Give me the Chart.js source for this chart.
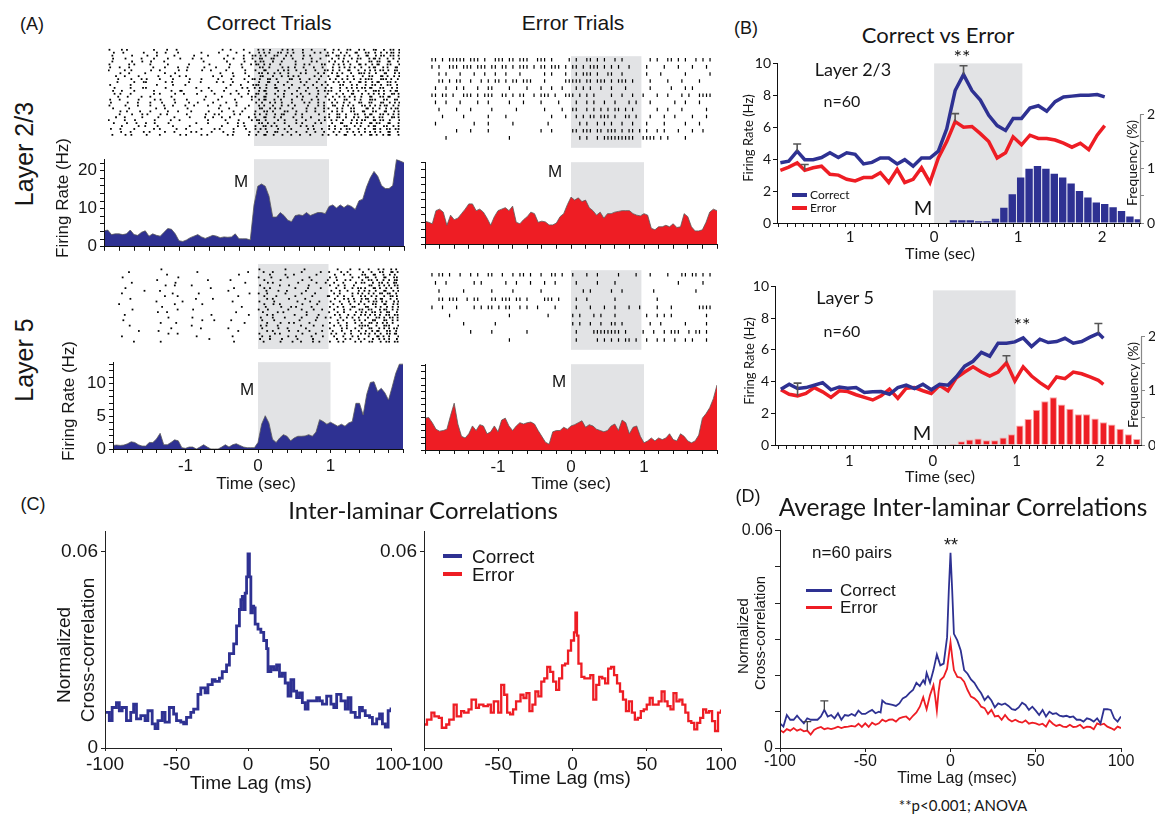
<!DOCTYPE html>
<html><head><meta charset="utf-8"><title>Correct vs Error trials</title>
<script src="https://cdn.jsdelivr.net/npm/chart.js@4.4.1/dist/chart.umd.min.js"></script>
<style>
html,body{margin:0;padding:0;background:#fff}
body{position:relative;width:1155px;height:817px;overflow:hidden;font-family:"Liberation Sans",Arial,sans-serif;color:#161616}
canvas{position:absolute}
.t{position:absolute;white-space:nowrap;line-height:1;transform:translate(-50%,-50%)}
.r{transform:translate(-50%,-50%) rotate(-90deg)}
.lt{transform:translate(0,-50%)}
.cal{font-family:Lato,"Open Sans",sans-serif}
.sw{position:absolute}
</style></head><body>
<canvas id="rA1" width="300" height="106" style="left:104px;top:44px"></canvas>
<canvas id="pA1" width="354" height="114" style="left:56px;top:146px"></canvas>
<canvas id="rA2" width="292" height="102" style="left:425px;top:51px"></canvas>
<canvas id="pA2" width="310" height="109" style="left:413px;top:149px"></canvas>
<canvas id="rA3" width="290" height="93" style="left:113px;top:260px"></canvas>
<canvas id="pA3" width="344" height="131" style="left:65px;top:349px"></canvas>
<canvas id="rA4" width="292" height="90" style="left:425px;top:265px"></canvas>
<canvas id="pA4" width="310" height="129" style="left:413px;top:351px"></canvas>
<canvas id="bTop" width="418" height="213" style="left:737px;top:52px"></canvas>
<canvas id="bBot" width="418" height="195" style="left:737px;top:275px"></canvas>
<canvas id="cL" width="363" height="258" style="left:47px;top:517px"></canvas>
<canvas id="cR" width="360" height="258" style="left:380px;top:517px"></canvas>
<canvas id="dP" width="402" height="253" style="left:738px;top:519px"></canvas>

<!-- Panel A text -->
<div class="t" style="left:32px;top:24px;font-size:18px">(A)</div>
<div class="t" style="left:269px;top:22px;font-size:21px">Correct Trials</div>
<div class="t" style="left:573px;top:22px;font-size:21px">Error Trials</div>
<div class="t r" style="left:24px;top:154px;font-size:25px">Layer 2/3</div>
<div class="t r" style="left:24px;top:360px;font-size:25px">Layer 5</div>
<div class="t r" style="left:62px;top:198px;font-size:17px">Firing Rate (Hz)</div>
<div class="t r" style="left:68px;top:401px;font-size:17px">Firing Rate (Hz)</div>
<div class="t" style="left:241px;top:181px;font-size:17px">M</div>
<div class="t" style="left:555px;top:171px;font-size:17px">M</div>
<div class="t" style="left:247px;top:389px;font-size:17px">M</div>
<div class="t" style="left:559px;top:381px;font-size:17px">M</div>
<div class="t" style="left:256px;top:483px;font-size:17px">Time (sec)</div>
<div class="t" style="left:571px;top:483px;font-size:17px">Time (sec)</div>

<!-- Panel B text -->
<div class="t" style="left:746px;top:28px;font-size:18px">(B)</div>
<div class="t cal" style="left:938px;top:35px;font-size:22px">Correct vs Error</div>
<div class="t cal" style="left:853px;top:69px;font-size:18px">Layer 2/3</div>
<div class="t cal" style="left:842px;top:101px;font-size:16px">n=60</div>
<div class="t cal" style="left:962px;top:56px;font-size:20px">**</div>
<div class="t cal" style="left:923px;top:207px;font-size:20px">M</div>
<div class="sw" style="left:792px;top:193px;width:15px;height:4px;background:#2E3192"></div>
<div class="t cal lt" style="left:810px;top:195px;font-size:12px">Correct</div>
<div class="sw" style="left:792px;top:206px;width:15px;height:4px;background:#EE1D24"></div>
<div class="t cal lt" style="left:810px;top:208px;font-size:12px">Error</div>
<div class="t cal r" style="left:748px;top:138px;font-size:13px">Firing Rate (Hz)</div>
<div class="t cal r" style="left:1132px;top:163px;font-size:14px">Frequency (%)</div>
<div class="t cal" style="left:940px;top:253px;font-size:16px">Time (sec)</div>
<div class="t cal" style="left:845px;top:297px;font-size:18px">Layer 5</div>
<div class="t cal" style="left:842px;top:331px;font-size:16px">n=60</div>
<div class="t cal" style="left:1022px;top:324px;font-size:20px">**</div>
<div class="t cal" style="left:922px;top:432px;font-size:20px">M</div>
<div class="t cal r" style="left:749px;top:361px;font-size:13px">Firing Rate (Hz)</div>
<div class="t cal r" style="left:1133px;top:385px;font-size:14px">Frequency (%)</div>
<div class="t cal" style="left:940px;top:476px;font-size:16px">Time (sec)</div>

<!-- Panel C text -->
<div class="t" style="left:33px;top:504px;font-size:18px">(C)</div>
<div class="t cal" style="left:423px;top:510px;font-size:24px">Inter-laminar Correlations</div>
<div class="t r" style="left:63px;top:655px;font-size:19px">Normalized</div>
<div class="t r" style="left:87px;top:650px;font-size:19px">Cross-correlation</div>
<div class="t" style="left:251px;top:782px;font-size:19px">Time Lag (ms)</div>
<div class="t" style="left:570px;top:777px;font-size:19px">Time Lag (ms)</div>
<div class="sw" style="left:443px;top:554px;width:19px;height:4px;background:#2E3192"></div>
<div class="t lt" style="left:472px;top:556px;font-size:19px">Correct</div>
<div class="sw" style="left:443px;top:572px;width:19px;height:4px;background:#EE1D24"></div>
<div class="t lt" style="left:472px;top:574px;font-size:19px">Error</div>

<!-- Panel D text -->
<div class="t" style="left:748px;top:496px;font-size:18px">(D)</div>
<div class="t cal" style="left:963px;top:507px;font-size:24.5px">Average Inter-laminar Correlations</div>
<div class="t" style="left:852px;top:552px;font-size:17px">n=60 pairs</div>
<div class="t" style="left:951px;top:545px;font-size:18px">**</div>
<div class="sw" style="left:806px;top:589px;width:26px;height:2.5px;background:#2E3192"></div>
<div class="t lt" style="left:840px;top:590px;font-size:17px">Correct</div>
<div class="sw" style="left:806px;top:606px;width:26px;height:2.5px;background:#EE1D24"></div>
<div class="t lt" style="left:840px;top:607px;font-size:17px">Error</div>
<div class="t r" style="left:742px;top:636px;font-size:15px">Normalized</div>
<div class="t r" style="left:759px;top:633px;font-size:15px">Cross-correlation</div>
<div class="t" style="left:957px;top:778px;font-size:16px">Time Lag (msec)</div>
<div class="t cal" style="left:963px;top:805px;font-size:15px">**p&lt;0.001; ANOVA</div>

<script>
// ================= DATA =================
// Panel A: PSTH time grid (s) and firing rates (Hz)
const psthTime = [-2,-1.95,-1.9,-1.85,-1.8,-1.75,-1.7,-1.65,-1.6,-1.55,-1.5,-1.45,-1.4,-1.35,-1.3,-1.25,-1.2,-1.15,-1.1,-1.05,
  -1,-0.95,-0.9,-0.85,-0.8,-0.75,-0.7,-0.65,-0.6,-0.55,-0.5,-0.45,-0.4,-0.35,-0.3,-0.25,-0.2,-0.15,-0.1,-0.05,
  0,0.05,0.1,0.15,0.2,0.25,0.3,0.35,0.4,0.45,0.5,0.55,0.6,0.65,0.7,0.75,0.8,0.85,0.9,0.95,
  1,1.05,1.1,1.15,1.2,1.25,1.3,1.35,1.4,1.45,1.5,1.55,1.6,1.65,1.7,1.75,1.8,1.85,1.9,1.95,2];
const psthCorrectL23 = [4.2,4.4,3.2,3.4,3.4,3.2,3.4,4.4,3.2,3.0, 3.8,4.2,2.8,3.4,3.0,2.8,3.8,4.8,4.6,3.4,
  1.6,1.4,1.8,2.4,2.8,3.2,2.6,2.2,2.6,3.0, 2.8,2.4,2.6,2.5,2.6,3.4,2.1,2.1,2.1,1.8,
  11.0, 15.9,16.5,15.9,13.3,7.8,7.8,9.0,8.2,7.0, 6.6,8.2,8.4,8.2,9.0,8.2,8.6,9.0,9.0,8.7,
  10.6,11.0,10.2,11.0,10.3,11.0,10.6,9.8,12.1,12.5, 15.7,18.1,19.8,18.5,16.1,15.3,15.3,16.1,22.9,22.5, 22.1];
const psthErrorL23 = [6.3,6.0,5.6,9.1,9.5,8.7,5.2,7.9,6.7,7.1, 8.3,9.5,10.9,10.9,9.1,9.5,8.7,7.1,5.2,7.5,
  9.1,9.5,9.9,9.1,10.3,6.0,5.6,6.7,7.5,8.7, 8.3,6.0,6.3,6.1,5.3,5.3,5.8,7.5,8.3,10.7,
  12.7, 11.9,12.5,11.5,11.9,9.9,9.1,7.9,8.7,7.1, 8.3,8.3,8.7,8.9,9.1,9.1,9.1,8.3,7.9,7.7,
  8.3,7.9,4.4,4.0,4.8,4.8,5.2,4.8,5.6,4.6, 4.8,8.3,7.5,4.8,3.7,3.7,4.0,6.0,8.7,9.5, 9.1];
const psthCorrectL5 = [0.55,0.6,0.55,0.6,0.8,1.1,1.0,0.65,0.45,0.45, 1.0,1.0,1.55,2.4,0.65,0.65,1.0,1.4,1.25,0.2,
  0.1,0.3,0.3,0,0.3,0.65,0.3,0,0,0, 0.3,0.65,0.3,0.65,0.8,0.55,0.3,0.2,0.2,0.2,
  1.0, 3.8,5.1,4.0,1.5,1.0,1.7,2.2,1.95,1.25, 1.7,1.95,1.95,2.0,2.2,1.95,2.6,4.5,4.2,3.8,
  4.1,3.8,3.5,3.8,3.5,4.0,4.2,7.0,7.0,5.2, 8.4,10.2,10.3,8.8,9.3,8.6,7.5,9.5,11.6,13.0, 13.0];
const psthErrorL5 = [4.9,5.0,4.2,3.2,2.9,3.0,3.2,5.3,7.2,4.0, 2.1,1.85,2.5,3.7,3.0,3.9,3.7,2.5,2.8,3.7,
  2.8,4.6,4.9,3.7,3.0,3.7,4.2,4.0,4.2,4.3, 4.0,3.0,2.1,1.2,0.9,2.8,3.0,3.0,3.5,3.2,
  3.7, 3.9,4.2,4.5,3.5,3.9,3.7,3.2,3.0,2.8, 3.0,3.7,4.0,3.0,4.6,4.2,2.5,3.5,3.7,2.1,
  1.1,1.4,1.85,1.4,1.85,1.6,1.85,2.5,1.6,1.4, 2.5,2.1,1.4,1.1,1.4,2.3,4.9,5.6,6.5,7.9, 10.0];

// Panel A rasters: one string per trial; segments start at these times (s), bins of 0.05 s.
// '.' = no spike, '|' = spike at bin centre, '1'-'4' = spike at 1/5..4/5 of the bin.
const rasterSegStart = [-2, 0, 1];
const rasterBin = 0.05;
const rasterCorrectL23 = [
"2..4.1.... ..3...1.4. .......... .2.3...1.. / .13.2..4.1 3..2.4...2 / .4.1.32.4. 1.42.3.214",
".3..1....4 ...2.4...1 .....3.... 2....1..4. / .24.1.32.1 4..2..3.1. / 13.4.2.41. 32.14.2314",
".1....3... 4..2....1. ...3...2.. ..4....1.3 / 24.1.32.4. 1..3.2...4 / 2.314.1.3. 41.243.213",
".2..4....1 ..3...2..4 ...1.3.... .4..2..1.3 / .31.42..1. 3..2.4..1. / .2.13.4.21 .3412.3.14",
".1....3..2 .4...2.... ......1... ..3....2.. / 243..1.3.. .2...4.1.. / 3.1.24..1. .3142.41.2",
"2....4.1.. .3....2... ..1....4.. ...2..3..1 / 314.2..1.. .2.4.1..32 / .4.13.2.41 3.241.32.4",
"3..1.4.... ..2..3...1 .4....2..3 ...1..4... / .32.1..4.2 .1.3..2.4. / .3.24.13.2 .341.23.41",
"1...3.2... .4..1....2 .3...4..1. ..2....3.. / 2.41..3.12 .3..1.4..2 / 13.2.41.3. 24.1324.31",
"...2.4.... 1....3..2. .......... 4...1..3.. / .214.3.1.2 ..4.1..3.1 / .24.1.3.42 13.2.41.34",
"..1.3...2. ...4...1.3 .2......4. .1..2...3. / .42..1.3.2 4.1...3.2. / 2.41.3.1.4 .32.413.24",
"..4...2..1 3...1..4.. ..2..3.... 1..4...2.3 / 13.42.1..4 2.3..1.4.. / 4.2.13.2.1 321.4213.2",
"..3....1.4 2....4.3.. ..1..2...4 .3..1...2. / .2.41.3..1 ..4.2..1.3 / .4.13.2.41 3.241.324.",
"3.....1... ...2...4.. .1........ ...3..2..4 / 31.2.4..1. 2..4..1.3. / 1..32.4.1. 3.214.32.1",
".4....1..3 2....4.... ....1..3.. ..2...4.1. / 13.2.41..3 ..2.4..1.3 / .1.3.24.13 241.32.4.1",
".2.4...1.. ..3....2.4 1....3..2. .4...1..3. / .241..3.2. .4..1..3.2 / 21.3.4.13. 3.4213.241",
".4.2..1... ..3.1...2. 4...2....1 ...3.4..2. / 31.2.4..1. 2.4..1.3.. / 1.3.2.41.3 .24.13.423",
"..4..2...1 .3.....2.. ......4... .1....3..2 / 2.41..3.1. .4.2...1.3 / .3.24.13.2 .41.3241.3",
"3..1....2. ..4.2...1. .3....2... 1...4....2 / .241.3.2.. 2..1.4.3.. / 3.1.42.3.1 .421.32.31",
"4....2..1. .3..4...2. ..1.3...4. ..2..1.... / 3.1.24.3.. 2..4.1.3.1 / .24.3.1.42 .31.42.134",
"2...4...1. .3...2.4.. .1.3...2.. 4....1..3. / .24..1.3.2 .1..4..3.1 / .31.24.1.3 24.1342.13",
".2...4.... ...1.3.... .4........ 2..1...3.. / .31.24.1.. 3...2.4..1 / 2.4.1.32.. 413.2.1342",
"...2.1..4. .3....2..1 ..4....3.. .1..2.4... / 2.43.1..21 .3..2.4..1 / .24.1.32.4 1.32.41.23",
"...1..3..2 4...2.1... .3....4..1 2...3.1... / 13.2.4.31. .2.1...4.. / 3.42.1.32. 241.324.13",
"..1.3....2 ...4....1. ..2...3.4. .1.2....3. / 2.41.3.2.. 4..1.3...2 / 3.42.1.23. 314.21.423",
"1...3..2.. ..4....1.3 .......2.. ..1..4...2 / 42.1..3.2. .3..1..4.2 / .13.2.4.13 2.4132.1.4",
".3...1.4.. 2.4...3... ....1..2.. ..4..3.1.. / .214.3..2. .3.1..4.2. / .2.41.3.12 .4132.41.3",
"...4....2. 1..3...4.. ..2....... .1...3.2.. / 2.314.1..3 ..4.2.1... / 3.1.42.3.1 .241.32.13",
"4..2...1.. ..3.1...4. .2...3...1 3...2..4.. / 24.1..3.2. 1...4.2.3. / 3.14.21.3. 2.413.2143",
"...3..1..4 .2...3..1. ..4.1...2. .3..2...4. / .1.3.42..1 .3..2.4..1 / .4.2.3.14. 24.13.41.2",
".1..4.2... 3...1....4 .2...3.1.. ..4.1...3. / 3.41.2.4.. 1.3..2..4. / 2.3.41.3.2 .413.241.3"];
const rasterErrorL23 = [
"||.|.||||| .|||.|..|| |.||.|||.. |||.|....| / .|..||.|.| ..|.|..... / ..|.|..||. |.|..|.|.|",
"|.|..|||.| ||.|||.||. ||.|.|||.| .||.|||.|. / ||.|.|||.| .|.|..|... / .|....|... |...|...|.",
"..|.|...|. ..|..|..|. .|...|.... ..|.|...|. / .|.|||.|.. ||..|..... / .|...|.... ..|......|",
"..||.|.||. .|..|.|.|| .|.||.|||. ..|.....|| / |||.||.||| .|.|||.|.. / ..|....|.. .|....|...",
".|..|..|.| ...|..||.. ..|....|.. .|..|..|.. / .|.|.|..|. .|...|.... / ..|.....|. ..|.|.....",
"||.||.|..| ||.|.|||.. ||.|.||..| .|||.|..|| / |.|.|.|... .|..|..|.. / |...|..|.. .|.|..||||",
".|..|...|. ...|..|... ..|...|... .|....|... / .|..|.|..| ..|...|.|. / ..|......| ..|...|...",
"..|....|.. .|.....|.. ....|..... ..|....|.. / ||..|.|.|. |.||.|.|.. / ....|..|.. .|......|.",
"...|.....| ......|... .|........ ....|...|. / .|.|.||.|| |.|..||.|. / ..|...|..| ....|...|.",
".|........ ..|...|... ...|...... ...|...... / ..|.|..|.| .|..|..|.. / .|....|... ..|...|...",
".......|.. .|....|... .......... .|..|..... / ||.|||.||. |||.|.||.| / .|..|.|... |...|..|..",
"....|..... .......... ..|....... .......... / ..|.|..|.| ||||||||.. / ||||.|.|.. ..|......."];
const rasterCorrectL5 = [
".......... ..3....... .......... .......... / 2......4.. ...1...... / ..3...1.4. .2..13.4.1",
"...2...... .......... ..4....... .......1.. / .3..1..... ..2....4.. / 1..3.2...4 ..1.32.413",
".......... ....1..... .......... ....3..... / ...2...4.. 1.....3... / .4..2.1..3 2.41.3.24.",
".3........ .......2.. .......... .......... / 1..4....2. ....3..... / 2.1...4.3. 31.2.41.32",
".......... .2........ .....4.... ..1....... / .4....2... ..3..1...4 / ..2.4.1..3 .214.3.142",
"....1..... ......3... .......... ......2... / ..4.1..... .2....3..1 / .3..1..4.2 1.3.214.31",
".......... ...4..2... .1........ .......... / 3.....1.4. ....2..... / 2.4.3..1.. .31.24.143",
"..2....... .......... ......3... ...1...... / .4.2...... 3...1..4.. / ..1.3.4.21 2.413.24.3",
".......4.. ..1....... .......... .3........ / ..2..4..1. ...3...... / 4..1.2..3. 13.2.41.24",
".2........ .....4.... ...1...... .......3.. / 1.3....4.. ..2...1... / .3.1..4.23 .24.3142.1",
".......... ...3...1.. .......... ....2..... / .4...1.... 3....2...4 / 1.3.2.4..1 2.13.4.312",
"...4...... .......... ..2....1.. .......... / ..3.1...4. ...2...... / .4..23.1.2 31.241.3.2",
".......... .1......3. .......... ..4....... / 2...3..... .1..4..2.. / 3..1.4.2.1 .243.12.34",
"3......... ......2... ....1..... .......... / .4..2.1... ..3...4... / .2.4..1.3. 1.32.41.23",
".......... ..4....... .......... .....2.... / ..1...3..2 4....1.... / 2.3.1.42.. 31.24.3.14",
"....2..... .......1.. .3........ .......... / 1.4.....3. ..2..4..1. / .3..2.1.43 .21.342.13",
".......... .3..1..... .......... ...4...... / .2...3.1.. ...4...... / 1.3.2..4.2 3.214.31.2",
"..1....... .......... ......4... .......2.. / ..3.1..... 2..4...1.. / .4.1.3.2.1 24.13.2143",
".......... ....3..... .2........ .......... / 4...1..3.. ..2...4..1 / 3..2.14.3. .1.324.213",
".4........ .......... ....1..3.. ..2....... / .1..3..... .4....2... / ..3.1..24. 2.31.42.13",
".......... ..2...4... .......... ......1... / ..3...2.4. 1...3..... / 2.4..1.3.2 .314.23.1.",
"...3...... .......... .1........ .......... / 4.2..3.... ..1..4..2. / .3.2.1..43 21.3.421.4",
".......... .....2.... ...4...... .3........ / .1...4..2. ...3...... / 2..4.1.3.2 .31.24.132",
"......1... .4........ .......... ....2..... / ..3.1...4. .2..3...1. / .1.4..2.3. 3.241.32.1",
".......... ....3..1.. .......... .......... / 2...4.1... ..3...2... / 4.1.3.2..1 23.14.3241",
".2........ .......... ..3....... ..4....... / .1.2....3. 4....1..2. / .3..1.4.2. .2.413.1.4",
".......... .......... ......1... .......... / 3..2..4... .1...3.... / ..2.4.1.3. 1.3.24.1.2",
"....4..... ..2....... .......... ...1...... / .3....2..4 ..1..3.2.. / 2.4.1..3.1 .32.4.2143"];
const rasterErrorL5 = [
"|.||.|..|. .|.|..||.. |..|.||.|. .|..||.|.. / |...|..|.. ...|....|. / ..|....|.. .||.||.|.|",
".|..|..... ..|.|..... .|..|...|. ..|..|.... / .|.....|.. ..|....... / .......... |......|..",
"..|......| .......|.. ...|...... .|........ / ...|.|.... .|..|..... / ...|...... .....|....",
"..||.|||.. |.||...||. |||.||.|.. ..|||.|... / .|..|..... ..|....... / ....|..... ..........",
"|..|...|.. ..|.|.||.| .||..|.|.. |....|.... / .|...|...| ..|...|..| / ....|...|. ......||||",
".....|.... .......... ..|....... ...|...... / |.|...|.|. ..|....... / .|..|.|.|. ........|.",
".........| ........|. .......... .......... / |.|..|..|. .||.|..... / ..|..|.... ..|.....|.",
".......... .|.....|.. .......|.. .......... / .|....|||| ||||.|.... / |..|..|.|| |..|.||.|.",
".......... .......... ..|....... .......... / .|.....|.| .|.|.||.|. / .|..|.|..| ..|.|...|."];

// Panel B: population firing rate (Hz) and response-time histograms (%)
const bTopTime = [-1.83,-1.73,-1.63,-1.54,-1.44,-1.34,-1.24,-1.14,-1.04,-0.94,-0.84,-0.74,-0.64,-0.54,-0.44,-0.35,-0.25,-0.15,-0.05,
  0.05,0.15,0.25,0.35,0.45,0.55,0.65,0.75,0.85,0.94,1.04,1.14,1.24,1.34,1.44,1.54,1.64,1.74,1.84,1.94,2.03];
const bTopCorrect = [3.77,3.87,4.5,3.97,3.97,4.1,4.4,4.1,4.4,4.3, 3.7,3.8,4.07,4.07,3.7,3.97,3.56,4.07,4.07,
  4.5,5.9,8.3,9.3,8.3,7.7,6.75,6.1,5.8,6.55, 6.55,7.2,7.35,7.0,7.6,7.9,7.95,8.0,8.0,8.05, 7.9];
const bTopError = [3.3,3.5,3.77,3.3,3.46,3.56,3.05,3.0,2.74,2.64, 2.85,2.85,3.15,2.54,3.36,2.54,2.74,3.46,2.54,
  4.07,5.1,6.35,6.0,6.05,5.6,5.1,4.07,4.4,5.4, 4.9,5.5,5.3,5.3,5.2,5.0,4.75,5.0,4.6,5.5, 6.1];
const bTopBarTime = [0.23,0.33,0.43,0.53,0.63,0.73,0.83,0.93,1.03,1.13,1.23,1.33,1.43,1.53,1.63,1.73,1.83,1.93,2.03,2.13,2.23,2.33,2.43];
const bTopBarFreq = [0.5,0.5,0.5,0.3,0.3,0.8,2.8,5.3,8.4,10,10.5,10,9.1,8.4,7.3,5.9,4.7,3.8,3.5,2.9,2.2,1.2,0.7];
const bTopErrX  = [-1.63,-1.54,0.35,0.25];
const bTopErrLo = [4.5,3.3,9.3,6.35];
const bTopErrHi = [4.95,3.67,9.85,6.85];

const bBotTime = [-1.82,-1.72,-1.62,-1.52,-1.42,-1.32,-1.22,-1.12,-1.02,-0.92,-0.82,-0.72,-0.62,-0.52,-0.42,-0.32,-0.22,-0.12,-0.02,
  0.08,0.18,0.28,0.38,0.48,0.58,0.68,0.78,0.88,0.98,1.08,1.18,1.28,1.38,1.48,1.58,1.68,1.78,1.88,1.98,2.04];
const bBotCorrect = [3.52,3.83,3.56,3.62,3.77,3.93,3.48,3.66,3.58,3.62, 3.31,3.35,3.37,3.2,3.62,3.77,3.56,3.83,3.48,
  3.83,3.77,4.3,4.97,5.28,5.84,5.6,6.42,6.42,6.5, 6.75,6.21,6.67,6.46,6.52,6.73,6.42,6.52,6.8,7.04, 6.73];
const bBotError = [3.48,3.2,3.1,3.25,3.62,3.35,3.0,3.42,3.37,3.17, 3.0,2.84,3.1,3.52,2.94,3.58,3.62,3.42,3.25,
  3.77,3.42,4.24,4.6,4.93,4.6,4.35,4.6,5.18,4.04, 4.93,4.35,3.93,3.58,4.29,4.18,4.6,4.49,4.29,4.08, 3.83];
const bBotBarTime = [0.24,0.34,0.44,0.54,0.64,0.74,0.84,0.94,1.04,1.14,1.24,1.34,1.44,1.54,1.64,1.74,1.84,1.94,2.04,2.14,2.24,2.34,2.44];
const bBotBarFreq = [0.2,0.7,1.0,1.2,0.9,0.9,1.4,2.0,3.6,4.8,6.5,8.1,8.8,7.5,6.7,5.7,5.7,4.9,4.2,3.8,3.0,2.0,1.1];
const bBotErrX  = [-1.62,0.88,1.98];
const bBotErrLo = [3.1,5.18,7.04];
const bBotErrHi = [3.9,5.63,7.66];

// Panel C: example cross-correlograms (lag in ms)
const cCorrectLag = [-100,-97,-95,-92,-90,-88,-85,-82,-80,-78,-75,-72,-70,-67,-65,-63,-60,-58,-55,-52,
  -50,-47,-45,-43,-40,-38,-35,-33,-30,-28,-25,-23,-20,-18,-15,-13,-10,-8,-6,-5,
  -4,-3,-2,-1,0,1,2,3,4,5,7,9,11,13,14,16,18,20,22,24,
  26,28,30,32,34,36,38,40,42,45,48,50,52,55,58,60,62,65,68,70,72,75,78,80,82,85,87,90,92,94,96,98,100];
const cCorrectVal = [0.0109,0.0084,0.0124,0.0139,0.0114,0.0124,0.0084,0.0109,0.0134,0.0089,
  0.0099,0.0084,0.0114,0.0074,0.0059,0.0084,0.0109,0.0079,0.0124,0.0104,
  0.0084,0.0079,0.0074,0.0094,0.0109,0.0119,0.0164,0.0184,0.0169,0.0194,
  0.0209,0.0204,0.0214,0.0234,0.0254,0.0289,0.0319,0.0374,0.0424,0.0454,
  0.0464,0.0424,0.0474,0.0524,0.0594,0.0524,0.0414,0.0434,0.0429,0.0379,
  0.0364,0.0354,0.0329,0.0304,0.0234,0.0249,0.0239,0.0254,0.0219,0.0229,
  0.0199,0.0159,0.0209,0.0174,0.0154,0.0169,0.0139,0.0119,0.0144,0.0144,
  0.0154,0.0144,0.0134,0.0159,0.0134,0.0124,0.0164,0.0144,0.0119,0.0154,
  0.0109,0.0094,0.0124,0.0114,0.0099,0.0094,0.0074,0.0089,0.0104,0.0074,
  0.0064,0.0114,0.0124];
const cErrorLag = [-100,-98,-95,-93,-90,-88,-85,-83,-80,-78,-75,-73,-70,-68,-65,-63,-60,-57,-55,
  -53,-50,-48,-46,-44,-42,-40,-38,-35,-33,-31,-29,-27,-25,-23,-21,-19,-17,-15,-13,
  -11,-9,-7,-5,-3,-1,1,2,3,4,6,8,10,12,14,16,18,20,22,24,26,28,30,32,34,36,38,40,42,44,
  46,48,50,52,54,56,58,60,62,64,66,68,70,72,74,76,78,80,82,84,86,88,90,92,94,96,98,100];
const cErrorVal = [0.0072,0.0087,0.0108,0.0097,0.0092,0.0062,0.0072,0.0087,0.0133,
  0.0097,0.0113,0.0108,0.0118,0.0148,0.0123,0.0133,0.0128,0.0133,0.0108,
  0.0143,0.0108,0.0193,0.0163,0.0108,0.0103,0.0118,0.0143,0.0163,0.0153,
  0.0168,0.0113,0.0133,0.0173,0.0158,0.0203,0.0213,0.0248,0.0233,0.0203,
  0.0178,0.0213,0.0253,0.0258,0.0298,0.0329,0.0354,0.0414,0.0344,0.0258,
  0.0218,0.0213,0.0213,0.0223,0.0148,0.0193,0.0218,0.0213,0.0198,0.0243,
  0.0248,0.0223,0.0198,0.0173,0.0148,0.0113,0.0143,0.0108,0.0087,0.0092,
  0.0113,0.0118,0.0133,0.0153,0.0133,0.0133,0.0143,0.0173,0.0143,0.0128,
  0.0118,0.0168,0.0143,0.0148,0.0133,0.0108,0.0082,0.0077,0.0057,0.0077,
  0.0092,0.0118,0.0108,0.0113,0.0082,0.0052,0.0108,0.0118];

// Panel D: average cross-correlograms (lag in ms)
const dCorrectLag = [-100,-98,-96,-94,-92,-90,-88,-86,-84,-82,-80,-78,-76,-74,-72,-70,-68,-66,-64,-62,
  -60,-58,-56,-54,-52,-50,-48,-46,-44,-42,-41,-40,-38,-36,-34,-32,-30,-28,-26,-24,-22,-20,-18,-16,-15,
  -14,-12,-10,-8,-6,-4,-2,-1,0,1,2,4,6,8,10,12,14,16,18,20,22,24,26,28,30,32,34,36,38,40,
  42,44,46,48,50,52,54,56,58,60,62,64,66,68,70,72,74,76,78,80,82,84,86,88,90,92,94,96,98,100];
const dCorrectVal = [0.0068,0.0059,0.0091,0.0078,0.0078,0.0089,0.0078,0.0068,0.0082,0.0078,
  0.0078,0.0078,0.0087,0.0105,0.0087,0.0091,0.0082,0.0096,0.0078,0.0091,
  0.0089,0.0094,0.0089,0.0103,0.0094,0.0094,0.0100,0.0105,0.0096,0.0100,
  0.0098,
  0.0131,0.0123,0.0121,0.0119,0.0116,0.0123,0.0137,0.0142,0.0152,0.0160,0.0180,0.0171,0.0187,
  0.0178,
  0.0207,0.0180,0.0215,0.0258,0.0228,0.0233,0.0306,
  0.0434,0.0539,0.0434,
  0.0315,0.0297,0.0269,0.0215,0.0205,0.0189,0.0180,0.0164,0.0151,0.0132,
  0.0143,0.0131,0.0112,0.0123,0.0119,0.0123,0.0116,0.0107,0.0105,0.0112,
  0.0125,0.0119,0.0105,0.0114,0.0103,0.0091,0.0105,0.0087,0.0100,0.0094,
  0.0096,0.0089,0.0087,0.0089,0.0085,0.0087,0.0078,0.0078,0.0073,0.0082,
  0.0079,0.0073,0.0082,0.0068,0.0107,0.0107,0.0105,0.0082,0.0073,0.0087];
const dErrorLag = [-100,-98,-96,-94,-92,-90,-88,-86,-84,-82,-80,-78,-76,-74,-72,-70,-68,-66,-64,-62,
  -60,-58,-56,-54,-52,-50,-48,-46,-44,-42,-40,-38,-36,-34,-32,-30,-28,-26,-24,-22,-20,-18,-16,
  -15,-14,-12,-10,-9,-8,-7,-6,-4,-2,0,1,2,
  4,6,8,10,12,14,16,18,20,22,24,26,28,30,32,34,36,38,40,42,44,46,48,50,52,54,56,58,60,
  62,64,66,68,70,72,74,76,78,80,82,84,86,88,90,92,94,96,98,100];
const dErrorVal = [0.0050,0.0043,0.0052,0.0048,0.0055,0.0048,0.0052,0.0046,0.0048,0.0037,
  0.0050,0.0055,0.0058,0.0052,0.0055,0.0052,0.0055,0.0059,0.0055,0.0058,
  0.0059,0.0061,0.0059,0.0067,0.0058,0.0068,0.0058,0.0070,0.0064,0.0068,
  0.0078,0.0073,0.0078,0.0079,0.0073,0.0082,0.0085,0.0087,0.0078,0.0089,
  0.0098,0.0114,0.0140,
  0.0123,0.0107,0.0146,0.0173,0.0142,0.0103,0.0155,0.0187,0.0196,0.0219,0.0292,0.0251,0.0215,
  0.0196,0.0194,0.0183,0.0160,0.0142,0.0137,0.0128,0.0114,0.0110,
  0.0094,0.0105,0.0087,0.0089,0.0078,0.0091,0.0079,0.0073,0.0078,0.0073,
  0.0070,0.0076,0.0067,0.0070,0.0068,0.0064,0.0067,0.0059,0.0076,0.0067,
  0.0061,0.0064,0.0059,0.0058,0.0064,0.0058,0.0059,0.0064,0.0055,0.0059,
  0.0058,0.0052,0.0068,0.0064,0.0067,0.0059,0.0055,0.0050,0.0059,0.0055];
const dErrX  = [-74,-84];
const dErrLo = [0.0105,0.0048];
const dErrHi = [0.0130,0.0073];

// ================= STYLE / HELPERS =================
Chart.defaults.font.family = '"Liberation Sans", Arial, sans-serif';
Chart.defaults.color = '#161616';
const NAVY = '#2E3192', RED = '#EE1D24', SHADE = '#E2E3E5';

function base(){ return {responsive:false, animation:false, events:[], plugins:{legend:{display:false}, tooltip:{enabled:false}}}; }

function ax(o){
  const c = {type:'linear', min:o.min, max:o.max, offset:false,
    afterFit: s => { if (s.isHorizontal()) s.height = o.size; else s.width = o.size; },
    border:{display:o.border!==false, color:o.color||'#111', width:1, z:1},
    grid:{drawOnChartArea:false, drawTicks:true, tickLength:o.tick||4, color:o.color||'#111', tickWidth:1},
    ticks:{stepSize:o.step, includeBounds:false, autoSkip:false, maxRotation:0, minRotation:0,
      padding:(o.pad===undefined?3:o.pad), color:'#161616', font:o.font, callback:o.cb}};
  if (o.pos) c.position = o.pos;
  if (o.only) c.afterBuildTicks = s => { s.ticks = o.only.map(v => ({value:v})); };
  else if (o.upTo !== undefined) c.afterBuildTicks = s => { s.ticks = s.ticks.filter(t => t.value <= o.upTo + 1e-9); };
  return c;
}

function shade(from, to, yTop){
  return {id:'shade', beforeDatasetsDraw(chart){
    const {ctx, chartArea:a, scales} = chart;
    const x0 = scales.x.getPixelForValue(from), x1 = scales.x.getPixelForValue(to);
    const y0 = (yTop === undefined) ? a.top : scales.y.getPixelForValue(yTop);
    ctx.save(); ctx.fillStyle = SHADE; ctx.fillRect(x0, y0, x1 - x0, a.bottom - y0); ctx.restore();
  }};
}

function errBars(xs, lo, hi, color, width, cap){
  return {id:'errbars', afterDatasetsDraw(chart){
    const {ctx, scales} = chart;
    ctx.save(); ctx.strokeStyle = color; ctx.lineWidth = width;
    xs.forEach((xv, i) => {
      const px = scales.x.getPixelForValue(xv), y0 = scales.y.getPixelForValue(lo[i]), y1 = scales.y.getPixelForValue(hi[i]);
      ctx.beginPath(); ctx.moveTo(px, y0); ctx.lineTo(px, y1);
      ctx.moveTo(px - cap, y1); ctx.lineTo(px + cap, y1); ctx.stroke();
    });
    ctx.restore();
  }};
}

function rightAxisLine(topVal){
  return {id:'raxis', afterDatasetsDraw(chart){
    const s = chart.scales.y2, a = chart.chartArea, ctx = chart.ctx;
    ctx.save(); ctx.strokeStyle = '#888'; ctx.lineWidth = 1.2;
    ctx.beginPath(); ctx.moveTo(a.right + 0.5, s.getPixelForValue(0)); ctx.lineTo(a.right + 0.5, s.getPixelForValue(topVal)); ctx.stroke();
    ctx.restore();
  }};
}

function rasterPoints(rows){
  const pts = [], n = rows.length;
  rows.forEach((row, i) => {
    row.split('/').forEach((seg, k) => {
      const s = seg.replace(/\s/g, '');
      for (let j = 0; j < s.length; j++) {
        const c = s[j]; if (c === '.') continue;
        const frac = (c === '|') ? 0.5 : (+c) / 5;
        pts.push({x: rasterSegStart[k] + (j + frac) * rasterBin, y: n - i});
      }
    });
  });
  return pts;
}

const dotStyle  = {pointStyle:'rect', pointRadius:1.25, borderWidth:0};
const dashStyle = {pointStyle:'line', pointRadius:1.8, pointRotation:90, borderWidth:1.2};

function rasterChart(id, rows, st, yMin, yMax){
  new Chart(id, {type:'scatter',
    data:{datasets:[Object.assign({data:rasterPoints(rows), borderColor:'#000', backgroundColor:'#000'}, st)]},
    options:Object.assign(base(), {layout:{padding:0},
      scales:{x:{type:'linear', display:false, min:-2, max:2}, y:{type:'linear', display:false, min:yMin, max:yMax}}}),
    plugins:[shade(0, 1)]});
}

function psthChart(id, vals, color, o){
  new Chart(id, {type:'line',
    data:{datasets:[{data:psthTime.map((t, i) => ({x:t, y:vals[i]})), fill:'origin', backgroundColor:color,
      borderColor:'#5a5a5a', borderWidth:0.8, pointRadius:0, tension:0}]},
    options:Object.assign(base(), {layout:{padding:{top:4, right:6, left:0, bottom:0}},
      scales:{
        x:ax({min:-2, max:2, step:0.2, size:o.xh, tick:4, pad:3, font:{size:17},
          cb:v => (o.xlab && Math.abs(v) < 1.01 && Math.abs(v - Math.round(v)) < 1e-6) ? String(Math.round(v)) : ''}),
        y:ax({min:0, max:o.ymax, step:o.ystep, size:o.yw, tick:4, pad:3, font:{size:17},
          cb:v => (o.ylab && Math.abs(v % o.ylab) < 1e-6) ? String(v) : ''})
      }}),
    plugins:[shade(0, 1)]});
}

function bChart(id, o){
  new Chart(id, {type:'line',
    data:{datasets:[
      {type:'line', data:o.t.map((t, i) => ({x:t, y:o.blue[i]})), borderColor:NAVY, borderWidth:3.5, pointRadius:0, tension:0, yAxisID:'y'},
      {type:'line', data:o.t.map((t, i) => ({x:t, y:o.red[i]})), borderColor:RED, borderWidth:3.5, pointRadius:0, tension:0, yAxisID:'y'},
      {type:'bar', data:o.barT.map((t, i) => ({x:t, y:o.barV[i]})), backgroundColor:o.barColor, borderColor:o.barBorder,
        borderWidth:o.barBW, barPercentage:0.88, categoryPercentage:1, yAxisID:'y2'}]},
    options:Object.assign(base(), {layout:{padding:{top:9, right:0, left:0, bottom:0}},
      scales:{
        x:ax({min:o.xmin, max:o.xmax, step:0.1, size:o.xh, tick:4, pad:o.xpad, font:{family:'Lato', size:15},
          cb:v => Math.abs(v - Math.round(v)) < 1e-6 ? String(Math.abs(Math.round(v))) : ''}),
        y:ax({min:0, max:10, step:2, size:o.yw, tick:4, pad:2, font:{family:'Lato', size:14}, cb:v => String(v)}),
        y2:ax({pos:'right', min:0, max:o.y2max, step:5, upTo:20, size:o.y2w, tick:4, pad:3, border:false, color:'#888',
          font:{family:'Lato', size:14}, cb:v => (v % 10 === 0) ? String(v) : ''})
      }}),
    plugins:[shade(0, o.shadeTo, o.shadeTop), errBars(o.ex, o.elo, o.ehi, '#555', 1.6, 4), rightAxisLine(20)]});
}

function cChart(id, lag, val, color, bw, o){
  new Chart(id, {type:'line',
    data:{datasets:[{data:lag.map((t, i) => ({x:t, y:val[i]})), borderColor:color, borderWidth:bw, pointRadius:0, tension:0, stepped:true}]},
    options:Object.assign(base(), {layout:{padding:{top:10, right:19, left:0, bottom:0}},
      scales:{
        x:ax({min:-100, max:100, step:50, size:27, tick:3, pad:2, color:'#222', font:{size:19}, cb:v => String(v)}),
        y:ax({min:0, max:0.0663, only:o.yTicks, size:o.yw, tick:4, pad:3, color:'#222', font:{size:19},
          cb:v => v === 0 ? '0' : v.toFixed(2)})
      }})});
}

// ================= CHARTS =================
rasterChart('rA1', rasterCorrectL23, dotStyle, -2.8, 30.6);
psthChart('pA1', psthCorrectL23, NAVY, {xh:13, yw:48, ymax:23, ystep:2, ylab:10, xlab:false});
rasterChart('rA2', rasterErrorL23, dashStyle, -0.4, 12.5);
psthChart('pA2', psthErrorL23, RED, {xh:13, yw:12, ymax:22, ystep:2, ylab:0, xlab:false});
rasterChart('rA3', rasterCorrectL5, dotStyle, -1.73, 30.0);
psthChart('pA3', psthCorrectL5, NAVY, {xh:31, yw:48, ymax:13.3, ystep:1, ylab:5, xlab:true});
rasterChart('rA4', rasterErrorL5, dashStyle, -0.19, 9.55);
psthChart('pA4', psthErrorL5, RED, {xh:30, yw:12, ymax:13.2, ystep:1, ylab:0, xlab:true});

bChart('bTop', {t:bTopTime, blue:bTopCorrect, red:bTopError, barT:bTopBarTime, barV:bTopBarFreq,
  barColor:NAVY, barBorder:NAVY, barBW:0, xmin:-1.87, xmax:2.45, xh:42, xpad:1, yw:40, y2w:15, y2max:29.45,
  shadeTo:1.05, shadeTop:undefined, ex:bTopErrX, elo:bTopErrLo, ehi:bTopErrHi});
bChart('bBot', {t:bBotTime, blue:bBotCorrect, red:bBotError, barT:bBotBarTime, barV:bBotBarFreq,
  barColor:RED, barBorder:'#F7A8A8', barBW:1, xmin:-1.89, xmax:2.49, xh:25, xpad:3, yw:38, y2w:14, y2max:29.3,
  shadeTo:0.99, shadeTop:9.75, ex:bBotErrX, elo:bBotErrLo, ehi:bBotErrHi});

cChart('cL', cCorrectLag, cCorrectVal, NAVY, 2.8, {yTicks:[0, 0.06], yw:58});
cChart('cR', cErrorLag, cErrorVal, RED, 2.3, {yTicks:[0.06], yw:44});

new Chart('dP', {type:'line',
  data:{datasets:[
    {data:dCorrectLag.map((t, i) => ({x:t, y:dCorrectVal[i]})), borderColor:NAVY, borderWidth:1.8, pointRadius:0, tension:0},
    {data:dErrorLag.map((t, i) => ({x:t, y:dErrorVal[i]})), borderColor:RED, borderWidth:1.8, pointRadius:0, tension:0}]},
  options:Object.assign(base(), {layout:{padding:{top:10, right:19, left:0, bottom:0}},
    scales:{
      x:ax({min:-100, max:100, step:50, size:24, tick:4, pad:0, color:'#222', font:{size:16}, cb:v => String(v)}),
      y:ax({min:0, max:0.06, step:0.01, size:42, tick:5, pad:2, color:'#222', font:{size:16},
        cb:v => Math.abs(v) < 1e-9 ? '0' : (Math.abs(v - 0.06) < 1e-9 ? '0.06' : '')})
    }}),
  plugins:[errBars(dErrX, dErrLo, dErrHi, '#444', 1.3, 4)]});
</script>
</body></html>
